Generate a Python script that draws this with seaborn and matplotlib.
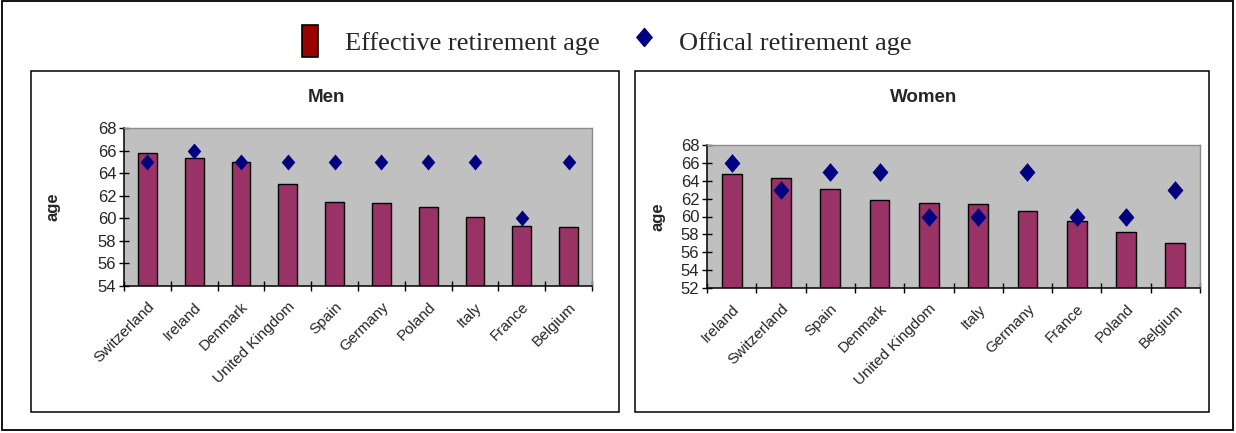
import numpy as np
import matplotlib
matplotlib.use("Agg")
import matplotlib.pyplot as plt
from matplotlib.patches import Rectangle, Patch
from matplotlib.lines import Line2D
from matplotlib.path import Path
import seaborn as sns

# Men
men_countries = ["Switzerland", "Ireland", "Denmark", "United Kingdom", "Spain",
                 "Germany", "Poland", "Italy", "France", "Belgium"]
men_effective = [65.8, 65.3, 64.95, 63.0, 61.45, 61.35, 61.0, 60.1, 59.35, 59.2]
men_official = [65, 66, 65, 65, 65, 65, 65, 65, 60, 65]

# Women
women_countries = ["Ireland", "Switzerland", "Spain", "Denmark", "United Kingdom",
                   "Italy", "Germany", "France", "Poland", "Belgium"]
women_effective = [64.75, 64.3, 63.1, 61.85, 61.55, 61.4, 60.6, 59.5, 58.25, 57.0]
women_official = [66, 63, 65, 65, 60, 60, 65, 60, 60, 63]

men_yticks = [54, 56, 58, 60, 62, 64, 66, 68]
women_yticks = [52, 54, 56, 58, 60, 62, 64, 66, 68]

BAR = "#993366"
DIAMOND = "#000080"
PLOT_BG = "#C0C0C0"

sns.set_theme(style="white")
plt.rcParams["font.family"] = ["Liberation Sans", "DejaVu Sans"]


def diamond_path(ratio):
    return Path([(0, 1), (ratio, 0), (0, -1), (-ratio, 0), (0, 1)],
                [Path.MOVETO, Path.LINETO, Path.LINETO, Path.LINETO, Path.CLOSEPOLY])


diamond = diamond_path(0.85)

W, H = 1236, 433
fig = plt.figure(figsize=(W / 100, H / 100), dpi=100)


def px_rect(x0, y0, x1, y1):
    return (x0 / W, 1 - y1 / H, (x1 - x0) / W, (y1 - y0) / H)


# frames
for (x0, y0, x1, y1), lw in [((2, 1, 1233, 430), 1.3),
                             ((31, 71, 619, 412), 1.1),
                             ((635, 71, 1209, 412), 1.1)]:
    l, b, w, h = px_rect(x0, y0, x1, y1)
    fig.add_artist(Rectangle((l, b), w, h, transform=fig.transFigure,
                             fill=False, edgecolor="black", linewidth=lw))


def panel(rect, countries, effective, official, yticks, title, title_x, ylab_x, msize):
    ax = fig.add_axes(px_rect(*rect))
    ax.set_facecolor(PLOT_BG)
    sns.barplot(x=countries, y=effective, order=countries, ax=ax, color=BAR,
                saturation=1, width=0.4, edgecolor="black", linewidth=1.0, zorder=2)
    sns.stripplot(x=countries, y=official, order=countries, ax=ax, jitter=False,
                  color=DIAMOND, marker=diamond, size=msize, linewidth=0, zorder=3)
    n = len(countries)
    ax.set_xlim(-0.5, n - 0.5)
    ax.set_ylim(yticks[0], yticks[-1])
    ax.set_yticks(yticks)
    ax.set_xticks(range(n))
    ax.set_xticklabels(countries, rotation=45, ha="right", rotation_mode="anchor",
                       fontsize=11)
    ax.set_xticks(np.arange(n + 1) - 0.5, minor=True)
    ax.tick_params(axis="x", which="major", length=0, pad=10)
    ax.tick_params(axis="x", which="minor", length=7, width=1, direction="inout",
                   color="black", bottom=True)
    ax.tick_params(axis="y", length=7, width=1, direction="inout", color="black",
                   left=True, labelsize=12, pad=2)
    ax.set_xlabel("")
    ax.set_ylabel("age", fontsize=12, fontweight="bold")
    ax.yaxis.set_label_coords(ylab_x, 0.5)
    for s in ["left", "bottom"]:
        ax.spines[s].set_color("black")
        ax.spines[s].set_linewidth(1.1)
    for s in ["top", "right"]:
        ax.spines[s].set_color("#8c8c8c")
        ax.spines[s].set_linewidth(1.0)
    ax.grid(False)
    fig.text(title_x / W, 1 - 97 / H, title, ha="center", va="center",
             fontsize=13.5, fontweight="bold")
    return ax


panel((124, 128, 592, 286), men_countries, men_effective, men_official,
      men_yticks, "Men", 326, -0.135, 11.5)
panel((707, 145, 1200, 288), women_countries, women_effective, women_official,
      women_yticks, "Women", 924, -0.085, 13.5)

handles = [Patch(facecolor="#990000", edgecolor="black", linewidth=1.2),
           Line2D([], [], linestyle="none", marker=diamond, markersize=13,
                  markerfacecolor=DIAMOND, markeredgecolor=DIAMOND)]
fig.legend(handles, ["Effective retirement age", "Offical retirement age"],
           loc="center", bbox_to_anchor=(0.491, 1 - 41 / H), ncol=2, frameon=False,
           prop={"family": "Liberation Serif", "size": 19},
           handlelength=0.6, handleheight=1.5, handletextpad=1.0,
           columnspacing=1.4)

fig.savefig("out.png", dpi=100)
